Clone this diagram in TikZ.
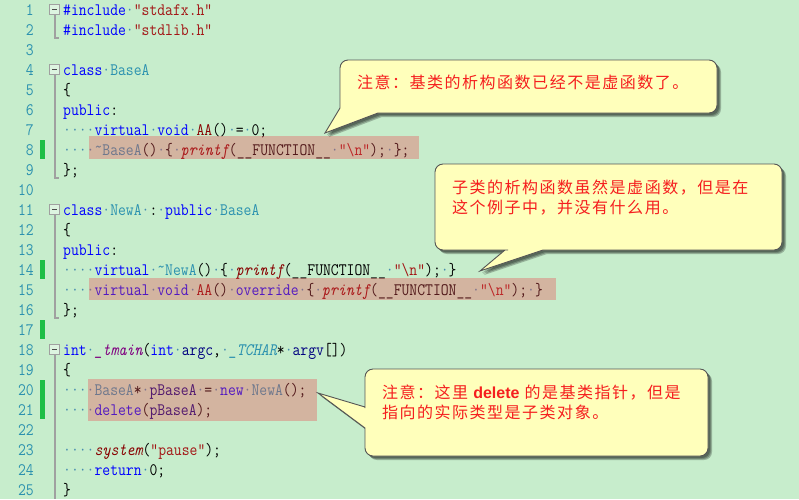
\documentclass[tikz,border=0pt]{standalone}
\usepackage{graphicx}
\usepackage{fontspec}
\newfontfamily\cjkfont{Noto Sans CJK SC}[LetterSpace=9.4]
\newfontfamily\arialfont{Liberation Sans}
\definecolor{bgc}{RGB}{199,237,204}
\definecolor{kwc}{RGB}{0,0,255}
\definecolor{strc}{RGB}{163,21,21}
\definecolor{clsc}{RGB}{43,145,175}
\definecolor{fnc}{RGB}{136,0,0}
\definecolor{varc}{RGB}{0,0,128}
\definecolor{tmc}{RGB}{128,0,128}
\definecolor{wsc}{RGB}{70,140,175}
\definecolor{lnc}{RGB}{43,145,175}
\definecolor{hlc}{RGB}{236,74,78}
\definecolor{chgc}{RGB}{30,190,70}
\definecolor{foldc}{RGB}{160,160,160}
\definecolor{calc}{RGB}{255,255,187}
\definecolor{calb}{RGB}{85,85,85}
\definecolor{notec}{RGB}{245,30,30}
\newcommand\codefnt{\ttfamily\addfontfeatures{FakeBold=0.5}\fontsize{15.24}{20}\selectfont}
\newcommand\notefnt{\cjkfont\fontsize{16}{20}\selectfont}
\newcommand\Cs[1]{\scalebox{1}[1.15]{#1}}
\newcommand\Kw[1]{\textcolor{kwc}{#1}}
\newcommand\Str[1]{\textcolor{strc}{#1}}
\newcommand\Cls[1]{\textcolor{clsc}{#1}}
\newcommand\Fn[1]{\textcolor{fnc}{#1}}
\newcommand\Fi[1]{\textcolor{fnc}{\itshape #1}}
\newcommand\Var[1]{\textcolor{varc}{#1}}
\newcommand\Tm[1]{\textcolor{tmc}{\itshape #1}}
\newcommand\Tc[1]{\textcolor{clsc}{\itshape #1}}
\newcommand\Wsp{\textcolor{wsc}{·}}
\newcommand\Tl{\raisebox{2.6pt}{\textasciitilde}}
\newcommand\Four{\Wsp\Wsp\Wsp\Wsp}
\newcommand\Pf{\Fi{printf}(\_\_FUNCTION\_\_\Wsp\Str{"\textbackslash n"});}
\tikzset{
  code/.style={anchor=base west, inner sep=0pt, font=\codefnt},
  lnum/.style={anchor=base east, inner sep=0pt, font=\codefnt, text=lnc},
  hl/.style={fill=hlc, fill opacity=0.35},
  chg/.style={fill=chgc},
  fold/.style={draw=foldc, line width=1.2pt},
  foldbox/.style={draw=foldc, fill=bgc!60!white, line width=1pt},
  callout/.style={fill=calc, draw=calb, line width=0.9pt},
  cshadow/.style={fill=black, fill opacity=0.24},
  ctext/.style={anchor=base west, inner sep=0pt, font=\notefnt, text=notec},
}
\begin{document}
\begin{tikzpicture}[x=1pt,y=-1pt]
\useasboundingbox (0,0) rectangle (799,499);
\fill[bgc] (0,0) rectangle (799,499);
% line numbers
\foreach \i in {1,...,25}{
  \node[lnum] (n\i) at (34,{15.3+20*(\i-1)}) {\Cs{\i}};
}
% change markers
\fill[chg] (40,140) rectangle (45,159);
\fill[chg] (40,260) rectangle (45,279);
\fill[chg] (40,320) rectangle (45,339);
\fill[chg] (40,380) rectangle (45,419);
% fold markers
\draw[fold] (55,14.5) -- (55,38) -- (59,38);
\draw[fold] (55,74.5) -- (55,178) -- (59,178);
\draw[fold] (55,214.5) -- (55,318) -- (59,318);
\draw[fold] (55,354.5) -- (55,499);
\foreach \yy in {9.5,69.5,209.5,349.5}{
  \draw[foldbox] (49.5,\yy-5) rectangle (59.5,\yy+5);
  \draw[black!70, line width=1.2pt] (52,\yy) -- (57,\yy);
}
% code
\node[code] (c1) at (63,15.3) {\Cs{\Kw{\#include}\Wsp\Str{"stdafx.h"}}};
\node[code] (c2) at (63,35.3) {\Cs{\Kw{\#include}\Wsp\Str{"stdlib.h"}}};
\node[code] (c4) at (63,75.3) {\Cs{\Kw{class}\Wsp\Cls{BaseA}}};
\node[code] (c5) at (63,95.3) {\Cs{\{}};
\node[code] (c6) at (63,115.3) {\Cs{\Kw{public}:}};
\node[code] (c7) at (63,135.3) {\Cs{\Four\Kw{virtual}\Wsp\Kw{void}\Wsp\Fn{AA}()\Wsp=\Wsp0;}};
\node[code] (c8) at (63,155.3) {\Cs{\Four\Cls{\Tl BaseA}()\Wsp\{\Wsp\Pf\Wsp\};}};
\node[code] (c9) at (63,175.3) {\Cs{\};}};
\node[code] (c11) at (63,215.3) {\Cs{\Kw{class}\Wsp\Cls{NewA}\Wsp:\Wsp\Kw{public}\Wsp\Cls{BaseA}}};
\node[code] (c12) at (63,235.3) {\Cs{\{}};
\node[code] (c13) at (63,255.3) {\Cs{\Kw{public}:}};
\node[code] (c14) at (63,275.3) {\Cs{\Four\Kw{virtual}\Wsp\Cls{\Tl NewA}()\Wsp\{\Wsp\Pf\Wsp\}}};
\node[code] (c15) at (63,295.3) {\Cs{\Four\Kw{virtual}\Wsp\Kw{void}\Wsp\Fn{AA}()\Wsp\Kw{override}\Wsp\{\Wsp\Pf\Wsp\}}};
\node[code] (c16) at (63,315.3) {\Cs{\};}};
\node[code] (c18) at (63,355.3) {\Cs{\Kw{int}\Wsp\Tm{\_tmain}(\Kw{int}\Wsp\Var{argc},\Wsp\Tc{\_TCHAR}*\Wsp\Var{argv}[])}};
\node[code] (c19) at (63,375.3) {\Cs{\{}};
\node[code] (c20) at (63,395.3) {\Cs{\Four\Cls{BaseA}*\Wsp\Var{pBaseA}\Wsp=\Wsp\Kw{new}\Wsp\Cls{NewA}();}};
\node[code] (c21) at (63,415.3) {\Cs{\Four\Kw{delete}(\Var{pBaseA});}};
\node[code] (c23) at (63,455.3) {\Cs{\Four\Fi{system}(\Str{"pause"});}};
\node[code] (c24) at (63,475.3) {\Cs{\Four\Kw{return}\Wsp0;}};
\node[code] (c25) at (63,495.3) {\Cs{\}}};
% highlights
\fill[hl] (89,136) rectangle (419,159);
\fill[hl] (89,278) rectangle (556,300);
\fill[hl] (88,379) rectangle (317,421);
% callouts
\def\calloutA{(325,133) -- (378,113) -- (379,113) [rounded corners=8pt] -- (717,113) -- (717,60) -- (340,60) -- (340,100) [sharp corners] -- (340,108) -- cycle}
\def\calloutB{(480,271) -- (543,250) -- (544,250) [rounded corners=8pt] -- (782,250) -- (782,164) -- (435,164) -- (435,250) -- (500,250) [sharp corners] -- (505,250) -- cycle}
\def\calloutC{(318,393) -- (365,428) -- (365,429) [rounded corners=8pt] -- (365,456) -- (708,456) -- (708,369) -- (365,369) -- (365,400) [sharp corners] -- (365,407) -- cycle}
\foreach \s in {2,3,4}{
  \fill[cshadow, shift={(\s,\s)}] \calloutA;
  \fill[cshadow, shift={(\s,\s)}] \calloutB;
  \fill[cshadow, shift={(\s,\s)}] \calloutC;
}
\filldraw[callout] \calloutA;
\filldraw[callout] \calloutB;
\filldraw[callout] \calloutC;
\node[ctext] (t1) at (357,88) {注意：基类的析构函数已经不是虚函数了。};
\node[ctext] (t2a) at (452,193) {子类的析构函数虽然是虚函数，但是在};
\node[ctext] (t2b) at (452,213) {这个例子中，并没有什么用。};
\node[ctext] (t3a) at (382,398) {注意：这里 {\arialfont\bfseries\fontsize{16}{20}\selectfont delete} 的是基类指针，但是};
\node[ctext] (t3b) at (382,418) {指向的实际类型是子类对象。};
\end{tikzpicture}
\end{document}
